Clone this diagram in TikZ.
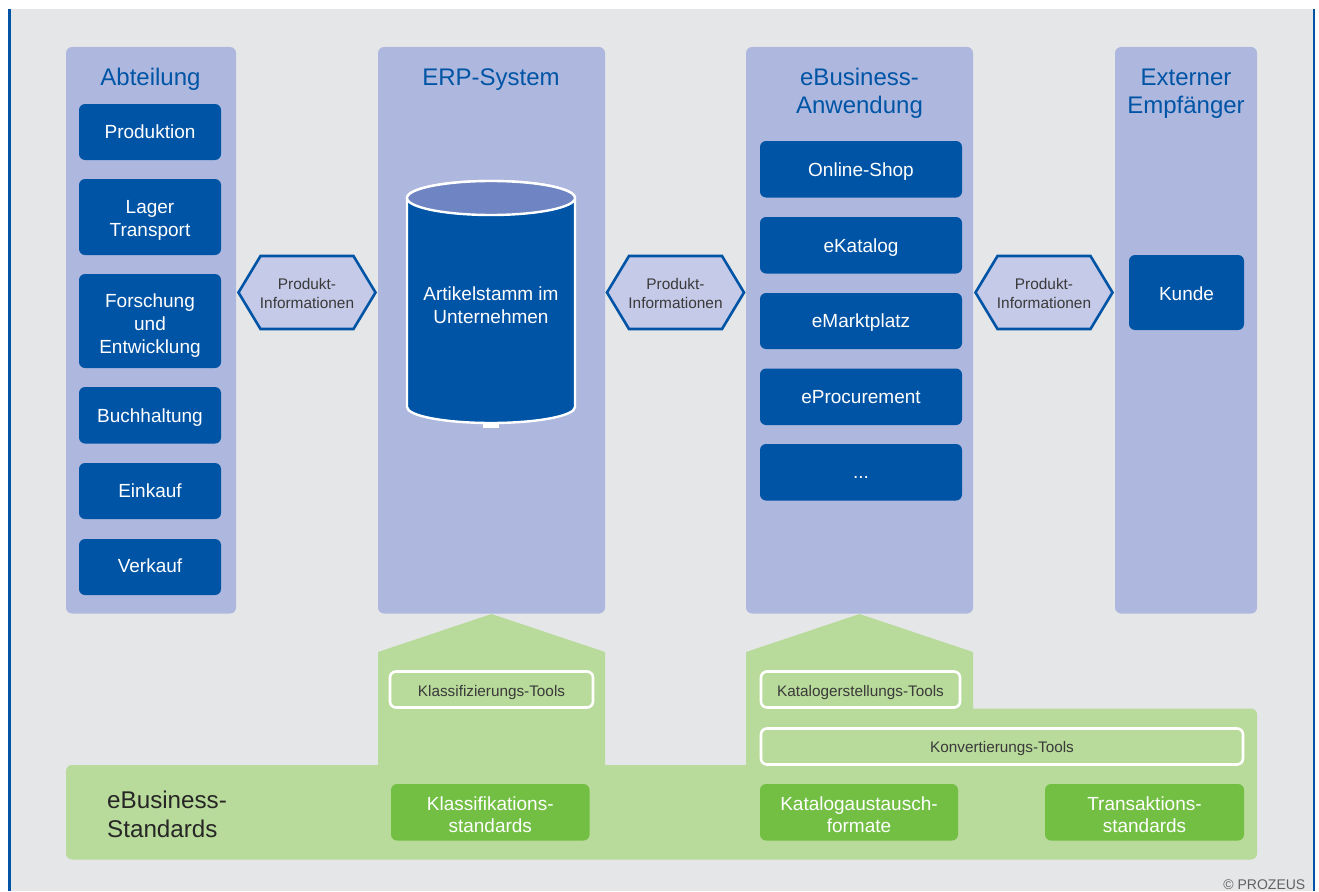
\documentclass[tikz,border=0pt]{standalone}
\usepackage{fontspec}
\setmainfont{Liberation Sans}
\definecolor{bggrey}{HTML}{E5E6E8}
\definecolor{panelblue}{HTML}{AEB8DE}
\definecolor{deepblue}{HTML}{0054A5}
\definecolor{topblue}{HTML}{6F84C2}
\definecolor{hexfill}{HTML}{C5CAE8}
\definecolor{lightgreen}{HTML}{B8DA9A}
\definecolor{midgreen}{HTML}{72BF44}
\definecolor{darktext}{HTML}{3A3A3A}
\tikzset{
  panel/.style={fill=panelblue,draw=none,rounded corners=6pt},
  titletext/.style={text=deepblue,font=\fontsize{24}{28}\selectfont,align=center,inner sep=0pt},
  bluebox/.style={fill=deepblue,draw=none,rounded corners=6pt,text=white,font=\fontsize{19}{22.6}\selectfont,align=center,inner sep=0pt},
  greenbox/.style={fill=midgreen,draw=none,rounded corners=6pt,text=white,font=\fontsize{19}{21.5}\selectfont,align=center,inner sep=0pt},
  toolbox/.style={draw=white,line width=2.6pt,fill=none,rounded corners=6pt,text=darktext,font=\fontsize{15.3}{18}\selectfont,inner sep=0pt,align=center},
  hexshape/.style={fill=hexfill,draw=deepblue,line width=2.6pt,miter limit=10},
  hextext/.style={text=darktext,font=\fontsize{15.4}{19}\selectfont,align=center,inner sep=0pt},
}
% a strut whose extra height pushes the text of a node down by half of #1
\newcommand{\dropstrut}[1]{\rule{0pt}{\dimexpr\ht\strutbox+#1\relax}}
\newcommand{\boxat}[8]{% style,name,x1,y1,x2,y2,drop,text
  \node[#1,minimum width=#5pt-#3pt,minimum height=#6pt-#4pt] (#2) at ({(#3+#5)/2},{(#4+#6)/2}) {\dropstrut{#7}#8\strut};}
\newcommand{\hexat}[3]{% name,left x,text
  \draw[hexshape] (#2,292.5) -- ++(22,-36.5) -- ++(93,0) -- ++(22,36.5) -- ++(-22,36.5) -- ++(-93,0) -- cycle;
  \node[hextext] (#1) at (#2+68.5,293.5) {\dropstrut{4pt}#3\strut};}
\begin{document}
\begin{tikzpicture}[x=1pt,y=-1pt]
\useasboundingbox (0,0) rectangle (1319,891);
\fill[white] (0,0) rectangle (1319,891);
\fill[bggrey] (10,9) rectangle (1313,891);
\fill[deepblue] (8,9) rectangle (10.6,891);
\fill[deepblue] (1312.6,9) rectangle (1315,891);
% panels
\boxat{panel}{p1}{66}{47}{236}{613.5}{0pt}{}
\boxat{panel}{p2}{378}{47}{605}{613.5}{0pt}{}
\boxat{panel}{p3}{746}{47}{973}{613.5}{0pt}{}
\boxat{panel}{p4}{1115}{47}{1257}{613.5}{0pt}{}
\node[titletext] (t1) at (150.5,77) {\dropstrut{6pt}Abteilung\strut};
\node[titletext] (t2) at (491,77) {\dropstrut{6pt}ERP-System\strut};
\node[titletext] (t3) at (859.5,91) {\dropstrut{6pt}eBusiness-\\Anwendung\strut};
\node[titletext] (t4) at (1186,91) {\dropstrut{6pt}Externer\\Empfänger\strut};
% department boxes
\boxat{bluebox}{a1}{79}{104}{221}{160}{4pt}{Produktion}
\boxat{bluebox}{a2}{79}{179}{221}{255}{7pt}{Lager\\Transport}
\boxat{bluebox}{a3}{79}{274}{221}{368}{10pt}{Forschung\\und\\Entwicklung}
\boxat{bluebox}{a4}{79}{387}{221}{443.5}{6pt}{Buchhaltung}
\boxat{bluebox}{a5}{79}{463}{221}{519}{4pt}{Einkauf}
\boxat{bluebox}{a6}{79}{539}{221}{595}{2pt}{Verkauf}
% eBusiness boxes
\boxat{bluebox}{e1}{760}{141}{962}{197.5}{6pt}{Online-Shop}
\boxat{bluebox}{e2}{760}{217}{962}{273.5}{6pt}{eKatalog}
\boxat{bluebox}{e3}{760}{293}{962}{349}{4pt}{eMarktplatz}
\boxat{bluebox}{e4}{760}{368.5}{962}{425}{4pt}{eProcurement}
\boxat{bluebox}{e5}{760}{444}{962}{500.5}{4pt}{...}
\boxat{bluebox}{k1}{1129}{255}{1244}{330}{6pt}{Kunde}
% cylinder
\fill[white] (483,420) rectangle (499,428);
\draw[fill=deepblue,draw=white,line width=2.4pt]
  (407,198) -- (407,407) arc[start angle=180,end angle=0,x radius=84,y radius=16] -- (575,198)
  arc[start angle=0,end angle=-180,x radius=84,y radius=17] -- cycle;
\draw[fill=topblue,draw=white,line width=2.4pt] (491,198) ellipse[x radius=84,y radius=17];
\node[bluebox,fill=none] (cyl) at (491,304) {\dropstrut{7pt}Artikelstamm im\\Unternehmen\strut};
% hexagons
\hexat{h1}{238.5}{Produkt-\\Informationen}
\hexat{h2}{607}{Produkt-\\Informationen}
\hexat{h3}{975.5}{Produkt-\\Informationen}
% green base
\fill[lightgreen,rounded corners=6pt] (66,765) -- (800,765) -- (800,708.5) -- (1257,708.5) -- (1257,859.5) -- (66,859.5) -- cycle;
\fill[lightgreen] (378,766) -- (378,652) -- (491.5,614) -- (605,652) -- (605,766) -- cycle;
\fill[lightgreen] (746,766) -- (746,652) -- (859.5,614) -- (973,652) -- (973,766) -- cycle;
% tools
\boxat{toolbox}{u1}{390}{671.5}{593}{707.5}{6pt}{Klassifizierungs-Tools}
\boxat{toolbox}{u2}{761}{671.5}{960}{707.5}{6pt}{Katalogerstellungs-Tools}
\boxat{toolbox}{u3}{761}{728.5}{1243}{764.5}{4pt}{Konvertierungs-Tools}
% standards
\node[anchor=west,text=black!85,font=\fontsize{24.2}{29}\selectfont,align=left,inner sep=0pt] (s0) at (107,814.5) {\dropstrut{6pt}eBusiness-\\Standards\strut};
\boxat{greenbox}{s1}{391}{784}{589.5}{840.5}{10pt}{Klassifikations-\\standards}
\boxat{greenbox}{s2}{760}{784}{958}{840.5}{10pt}{Katalogaustausch-\\formate}
\boxat{greenbox}{s3}{1045}{784}{1244}{840.5}{10pt}{Transaktions-\\standards}
\node[anchor=east,text=darktext!80,font=\fontsize{14}{16}\selectfont,inner sep=0pt] (c) at (1305.5,884.5) {© PROZEUS};
\end{tikzpicture}
\end{document}
